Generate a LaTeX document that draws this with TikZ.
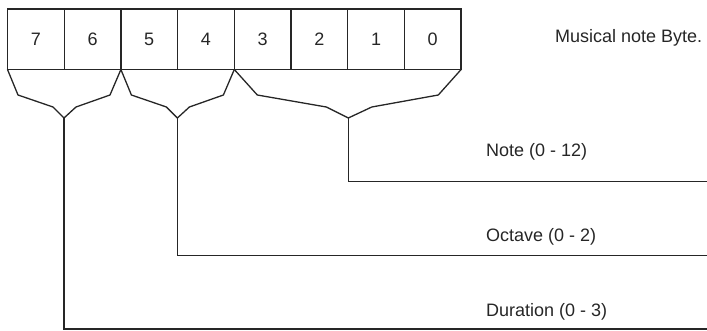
\documentclass[tikz,border=0pt]{standalone}
\usepackage{fontspec}
\setmainfont{Liberation Sans}
\usetikzlibrary{positioning}

\tikzset{
    bitbox/.style={draw,line width=1.3pt,minimum width=56.7pt,minimum height=60.5pt,inner sep=0pt,outer sep=0pt},
    brace/.style={line width=1.3pt,line join=miter},
    lead/.style={line width=1.3pt},
    txt/.style={anchor=west,inner sep=0pt,font=\fontsize{18}{21}\selectfont}
}

\begin{document}
\begin{tikzpicture}[x=1pt,y=-1pt,color={black!85}]
    \useasboundingbox (0,0) rectangle (707,331);
    % bit boxes
    \foreach \i in {0,...,7} {
        \pgfmathsetmacro{\x}{7.5+56.7*(7-\i)+28.35}
        \node[bitbox,font=\fontsize{18}{21}\selectfont] (b\i) at (\x,39.25) {\i};
    }
    \node[txt] (title) at (555,38) {Musical note Byte.};

    % braces
    \draw[brace] (b7.south west) -- ++(10.5,25.5) -- ++(35,12) -- ++(11,11) coordinate (dur)
        -- ++(12,-11) -- ++(34,-12) -- (b6.south east);
    \draw[brace] (b5.south west) -- ++(10.5,25.5) -- ++(35,12) -- ++(11,11) coordinate (oct)
        -- ++(12,-11) -- ++(34,-12) -- (b4.south east);
    \draw[brace] (b3.south west) -- ++(23,25.5) -- ++(69,12) -- ++(22,11) coordinate (note)
        -- ++(23.5,-11) -- ++(66.5,-12) -- (b0.south east);

    % leads
    \coordinate (noteend) at (707,181.7);
    \coordinate (octend) at (707,255.7);
    \coordinate (durend) at (707,329);
    \draw[lead] (note) |- (noteend);
    \draw[lead] (oct) |- (octend);
    \draw[lead] (dur) |- (durend);

    \node[txt] (notelbl) at (486,152) {Note (0 - 12)};
    \node[txt] (octlbl) at (486,236.7) {Octave (0 - 2)};
    \node[txt] (durlbl) at (486,311.7) {Duration (0 - 3)};
\end{tikzpicture}
\end{document}
